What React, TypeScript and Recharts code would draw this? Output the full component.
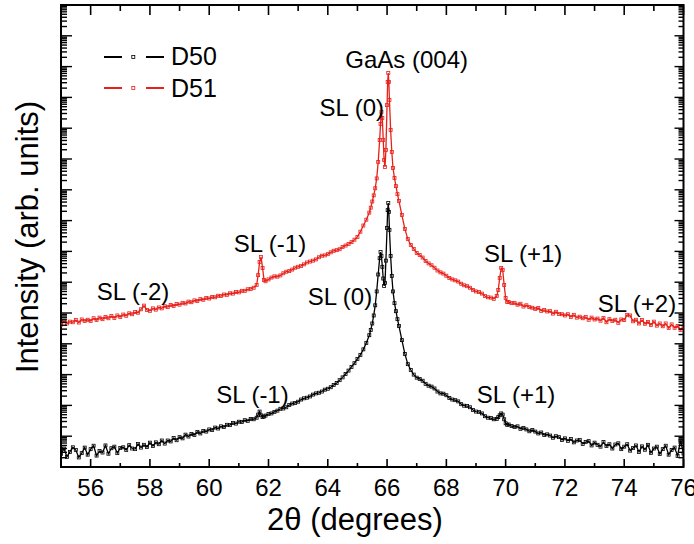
import React from 'react';
import { ComposedChart, Line, XAxis, YAxis, ReferenceArea, Scatter } from 'recharts';

// 2θ positions (degrees)
const twoTheta = [
  55.0, 55.1, 55.2, 55.3, 55.4, 55.5, 55.6, 55.7, 55.8, 55.9,
  56.0, 56.1, 56.2, 56.3, 56.4, 56.5, 56.6, 56.7, 56.8, 56.9,
  57.0, 57.1, 57.2, 57.3, 57.4, 57.5, 57.6, 57.7, 57.8, 57.9,
  58.0, 58.1, 58.2, 58.3, 58.4, 58.5, 58.6, 58.7, 58.8, 58.9,
  59.0, 59.1, 59.2, 59.3, 59.4, 59.5, 59.6, 59.7, 59.8, 59.9,
  60.0, 60.1, 60.2, 60.3, 60.4, 60.5, 60.6, 60.7, 60.8, 60.9,
  61.0, 61.1, 61.2, 61.3, 61.4, 61.5,
  61.6, 61.65, 61.7, 61.75, 61.8, 61.85, 61.9, 62.0,
  62.1, 62.2, 62.3, 62.4, 62.5, 62.6, 62.7, 62.8, 62.9, 63.0,
  63.1, 63.2, 63.3, 63.4, 63.5, 63.6, 63.7, 63.8, 63.9, 64.0,
  64.1, 64.2, 64.3, 64.4, 64.5, 64.6, 64.7, 64.8, 64.9, 65.0,
  65.1, 65.2, 65.3, 65.4, 65.45, 65.5, 65.55, 65.6, 65.65, 65.7, 65.75, 65.78, 65.81, 65.84, 65.87, 65.9, 65.93, 65.96,
  66.0, 66.02, 66.04, 66.06, 66.08, 66.12, 66.16, 66.2, 66.25, 66.3, 66.35, 66.4, 66.5, 66.6, 66.7, 66.8, 66.9, 67.0,
  67.1, 67.2, 67.3, 67.4, 67.5, 67.6, 67.7, 67.8, 67.9, 68.0,
  68.1, 68.2, 68.3, 68.4, 68.5, 68.6, 68.7, 68.8, 68.9, 69.0,
  69.1, 69.2, 69.3, 69.4, 69.5, 69.6,
  69.7, 69.75, 69.8, 69.85, 69.9, 69.95, 70.0, 70.05,
  70.1, 70.2, 70.3, 70.4, 70.5, 70.6, 70.7, 70.8, 70.9, 71.0,
  71.1, 71.2, 71.3, 71.4, 71.5, 71.6, 71.7, 71.8, 71.9, 72.0,
  72.1, 72.2, 72.3, 72.4, 72.5, 72.6, 72.7, 72.8, 72.9, 73.0,
  73.1, 73.2, 73.3, 73.4, 73.5, 73.6, 73.7, 73.8, 73.9, 74.0,
  74.1, 74.2, 74.3, 74.4, 74.5, 74.6, 74.7, 74.8, 74.9, 75.0,
  75.1, 75.2, 75.3, 75.4, 75.5, 75.6, 75.7, 75.8, 75.9, 76.0,
];

// log10 intensity (arb. units), sample D50
const d50 = [
  0.42, 0.60, 0.33, 0.49, 0.64, 0.55, 0.31, 0.45, 0.63, 0.40,
  0.58, 0.69, 0.37, 0.52, 0.47, 0.70, 0.43, 0.61, 0.66, 0.45,
  0.62, 0.64, 0.55, 0.71, 0.60, 0.58, 0.75, 0.63, 0.72, 0.65,
  0.79, 0.68, 0.80, 0.74, 0.86, 0.76, 0.86, 0.83, 0.94, 0.87,
  0.97, 0.93, 1.05, 0.99, 1.07, 1.04, 1.14, 1.09, 1.17, 1.15,
  1.22, 1.20, 1.28, 1.25, 1.32, 1.30, 1.37, 1.36, 1.43, 1.41,
  1.47, 1.46, 1.52, 1.50, 1.56, 1.55,
  1.60, 1.70, 1.80, 1.68, 1.62, 1.64, 1.67, 1.72,
  1.74, 1.79, 1.83, 1.89, 1.90, 1.94, 2.01, 2.06, 2.08, 2.12,
  2.19, 2.23, 2.25, 2.29, 2.35, 2.39, 2.41, 2.45, 2.51, 2.54,
  2.59, 2.66, 2.73, 2.82, 2.91, 3.02, 3.13, 3.25, 3.37, 3.51,
  3.64, 3.82, 4.03, 4.28, 4.45, 4.66, 4.92, 5.25, 5.70, 6.25, 6.78, 6.98, 6.85, 6.50, 6.12, 5.88, 5.98, 6.70,
  7.76, 8.34, 8.57, 8.28, 7.70, 6.85, 6.20, 5.70, 5.32, 5.06, 4.80, 4.58, 4.12, 3.67, 3.34, 3.15, 3.00, 2.90,
  2.86, 2.80, 2.70, 2.64, 2.61, 2.55, 2.45, 2.39, 2.38, 2.33,
  2.24, 2.19, 2.17, 2.13, 2.04, 1.99, 1.98, 1.94, 1.85, 1.80,
  1.79, 1.74, 1.65, 1.60, 1.59, 1.55,
  1.56, 1.62, 1.68, 1.74, 1.70, 1.55, 1.42, 1.37,
  1.38, 1.33, 1.30, 1.32, 1.24, 1.27, 1.22, 1.16, 1.20, 1.15,
  1.09, 1.12, 1.04, 1.06, 1.02, 0.95, 1.00, 0.97, 0.88, 0.93,
  0.85, 0.91, 0.80, 0.86, 0.88, 0.75, 0.81, 0.84, 0.70, 0.79,
  0.72, 0.66, 0.81, 0.68, 0.74, 0.60, 0.73, 0.77, 0.58, 0.66,
  0.74, 0.53, 0.62, 0.70, 0.49, 0.67, 0.56, 0.72, 0.46, 0.60,
  0.66, 0.42, 0.58, 0.69, 0.40, 0.55, 0.63, 0.36, 0.86, 0.44,
];

// log10 intensity (arb. units), sample D51
const d51 = [
  4.62, 4.73, 4.66, 4.72, 4.70, 4.77, 4.69, 4.79, 4.74, 4.78,
  4.74, 4.83, 4.77, 4.85, 4.80, 4.87, 4.83, 4.90, 4.84, 4.92,
  4.87, 4.95, 4.91, 4.99, 4.96, 5.03, 5.01, 5.12, 5.24, 5.10,
  5.07, 5.15, 5.11, 5.18, 5.15, 5.22, 5.19, 5.26, 5.23, 5.29,
  5.27, 5.33, 5.31, 5.37, 5.35, 5.41, 5.39, 5.45, 5.43, 5.49,
  5.47, 5.52, 5.51, 5.56, 5.55, 5.60, 5.59, 5.64, 5.63, 5.68,
  5.67, 5.72, 5.72, 5.77, 5.78, 5.82,
  5.91, 6.23, 6.66, 6.82, 6.46, 6.07, 6.03, 6.09,
  6.15, 6.19, 6.18, 6.22, 6.29, 6.34, 6.36, 6.41, 6.47, 6.50,
  6.53, 6.58, 6.64, 6.67, 6.70, 6.74, 6.81, 6.86, 6.87, 6.91,
  6.97, 7.02, 7.04, 7.07, 7.14, 7.19, 7.24, 7.30, 7.38, 7.47,
  7.64, 7.84, 8.03, 8.26, 8.42, 8.62, 8.82, 9.05, 9.37, 9.90, 10.62, 11.14, 11.53, 11.33, 10.62, 9.97, 9.74, 10.29,
  11.75, 12.50, 12.79, 12.50, 11.92, 10.94, 10.23, 9.71, 9.38, 9.12, 8.86, 8.64, 8.18, 7.73, 7.40, 7.21, 7.08, 6.95,
  6.88, 6.80, 6.69, 6.61, 6.55, 6.47, 6.38, 6.32, 6.28, 6.21,
  6.14, 6.09, 6.06, 6.02, 5.95, 5.90, 5.87, 5.82, 5.75, 5.70,
  5.68, 5.63, 5.55, 5.51, 5.50, 5.46,
  5.55, 5.75, 6.14, 6.46, 6.40, 5.91, 5.49, 5.36,
  5.36, 5.32, 5.33, 5.27, 5.30, 5.21, 5.25, 5.19, 5.17, 5.13,
  5.16, 5.07, 5.10, 5.05, 5.06, 4.98, 5.04, 4.97, 4.96, 4.92,
  4.96, 4.87, 4.94, 4.85, 4.88, 4.83, 4.87, 4.78, 4.85, 4.79,
  4.82, 4.75, 4.84, 4.70, 4.80, 4.74, 4.78, 4.68, 4.79, 4.77,
  4.94, 4.92, 4.73, 4.78, 4.66, 4.77, 4.65, 4.71, 4.61, 4.72,
  4.59, 4.66, 4.57, 4.66, 4.51, 4.63, 4.52, 4.58, 4.45, 4.55,
];

const seriesNames = ['D50', 'D51'];
const seriesColors = ['#000000', '#e8201a'];

const xTicks = [55, 56, 57, 58, 59, 60, 61, 62, 63, 64, 65, 66, 67, 68, 69, 70, 71, 72, 73, 74, 75, 76];
const xLabelTicks = [56, 58, 60, 62, 64, 66, 68, 70, 72, 74, 76];
const decades = [0, 1, 2, 3, 4, 5, 6, 7, 8, 9, 10, 11, 12, 13, 14, 15];
const minorMultipliers = [2, 3, 4, 5, 6, 7, 8, 9];

// peak annotations: 2θ and log intensity at the text baseline
const annotations = [
  { t: 66.66, v: 12.94, text: 'GaAs (004)' },
  { t: 64.81, v: 11.40, text: 'SL (0)' },
  { t: 62.05, v: 6.99, text: 'SL (-1)' },
  { t: 57.43, v: 5.42, text: 'SL (-2)' },
  { t: 70.59, v: 6.67, text: 'SL (+1)' },
  { t: 74.43, v: 5.04, text: 'SL (+2)' },
  { t: 64.41, v: 5.26, text: 'SL (0)' },
  { t: 61.46, v: 2.07, text: 'SL (-1)' },
  { t: 70.35, v: 2.07, text: 'SL (+1)' },
];

const data = twoTheta.map((t, i) => ({ t, d50: d50[i], d51: d51[i] }));

const yTicks: number[] = [];
decades.forEach((d) => {
  yTicks.push(d);
  if (d < decades[decades.length - 1]) {
    minorMultipliers.forEach((m) => yTicks.push(d + Math.log10(m)));
  }
});

const W = 694;
const H = 544;
const PLOT_LEFT = 61;
const PLOT_RIGHT = 683.5;
const PLOT_TOP = 5;
const PLOT_BOTTOM = 467;
const FONT = '"Liberation Sans", Arial, Helvetica, sans-serif';

const XTick = (props: any) => {
  const { x, payload } = props;
  const v = payload.value;
  const major = v % 2 === 0;
  return (
    <g>
      <line x1={x} x2={x} y1={PLOT_BOTTOM} y2={PLOT_BOTTOM - (major ? 8 : 4)} stroke="#000" strokeWidth={1.6} />
      <line x1={x} x2={x} y1={PLOT_TOP} y2={PLOT_TOP + (major ? 10 : 6)} stroke="#000" strokeWidth={1.6} />
      {xLabelTicks.includes(v) ? (
        <text x={x} y={PLOT_BOTTOM + 29} textAnchor="middle" fontFamily={FONT} fontSize={24} fill="#000">
          {v}
        </text>
      ) : null}
    </g>
  );
};

const YTick = (props: any) => {
  const { y, payload } = props;
  const v = payload.value;
  const major = Math.abs(v - Math.round(v)) < 1e-6;
  return (
    <g>
      <line x1={PLOT_LEFT} x2={PLOT_LEFT + (major ? 11 : 6)} y1={y} y2={y} stroke="#000" strokeWidth={1.4} />
      <line x1={PLOT_RIGHT} x2={PLOT_RIGHT - (major ? 9 : 5)} y1={y} y2={y} stroke="#000" strokeWidth={1.4} />
    </g>
  );
};

const makeDot = (color: string) => (props: any) => {
  const { cx, cy, index } = props;
  if (cx == null || cy == null) return <g key={`e${index}`} />;
  return (
    <rect key={`d${index}`} x={cx - 1.5} y={cy - 1.5} width={3} height={3} fill="none" stroke={color} strokeWidth={0.8} />
  );
};

const AnnotationShape = (props: any) => {
  const { cx, cy, payload } = props;
  return (
    <text x={cx} y={cy} textAnchor="middle" fontFamily={FONT} fontSize={24} fill="#000">
      {payload.text}
    </text>
  );
};

const LegendBox = () => (
  <div style={{ position: 'absolute', left: 104, top: 41, fontFamily: FONT, fontSize: 25, color: '#000' }}>
    {seriesNames.map((name, i) => (
      <div key={name} style={{ display: 'flex', alignItems: 'center', height: 31.6 }}>
        <svg width={67} height={12} style={{ display: 'block' }}>
          <line x1={0} x2={18} y1={6} y2={6} stroke={seriesColors[i]} strokeWidth={2} />
          <rect x={27.8} y={4.5} width={3} height={3} fill="none" stroke={seriesColors[i]} strokeWidth={0.8} />
          <line x1={42} x2={60} y1={6} y2={6} stroke={seriesColors[i]} strokeWidth={2} />
        </svg>
        <span style={{ lineHeight: '31.6px' }}>{name}</span>
      </div>
    ))}
  </div>
);

export default function App() {
  return (
    <div style={{ position: 'absolute', left: 0, top: 0, width: W, height: H, background: '#fff' }}>
      <ComposedChart
        width={W}
        height={H}
        data={data}
        margin={{ top: PLOT_TOP, right: W - PLOT_RIGHT, bottom: 0, left: 0 }}
      >
        <XAxis
          dataKey="t"
          type="number"
          domain={[55, 76]}
          ticks={xTicks}
          interval={0}
          height={H - PLOT_BOTTOM}
          tickLine={false}
          axisLine={false}
          tick={<XTick />}
          allowDataOverflow
          label={() => (
            <text x={355} y={530} textAnchor="middle" fontFamily={FONT} fontSize={31} fill="#000">
              2θ (degrees)
            </text>
          )}
        />
        <YAxis
          type="number"
          domain={[0, 15]}
          ticks={yTicks}
          interval={0}
          width={PLOT_LEFT}
          tickLine={false}
          axisLine={false}
          tick={<YTick />}
          allowDataOverflow
          label={() => (
            <text
              x={38}
              y={237}
              transform="rotate(-90 38 237)"
              textAnchor="middle"
              fontFamily={FONT}
              fontSize={31}
              fill="#000"
            >
              Intensity (arb. units)
            </text>
          )}
        />
        <Line
          dataKey="d50"
          name={seriesNames[0]}
          stroke={seriesColors[0]}
          strokeWidth={1.3}
          dot={makeDot(seriesColors[0])}
          isAnimationActive={false}
        />
        <Line
          dataKey="d51"
          name={seriesNames[1]}
          stroke={seriesColors[1]}
          strokeWidth={1.3}
          dot={makeDot(seriesColors[1])}
          isAnimationActive={false}
        />
        <Scatter data={annotations} dataKey="v" shape={<AnnotationShape />} isAnimationActive={false} />
        <ReferenceArea x1={55} x2={76} y1={0} y2={15} fill="none" stroke="#000" strokeWidth={2} ifOverflow="visible" />
      </ComposedChart>
      <LegendBox />
    </div>
  );
}
